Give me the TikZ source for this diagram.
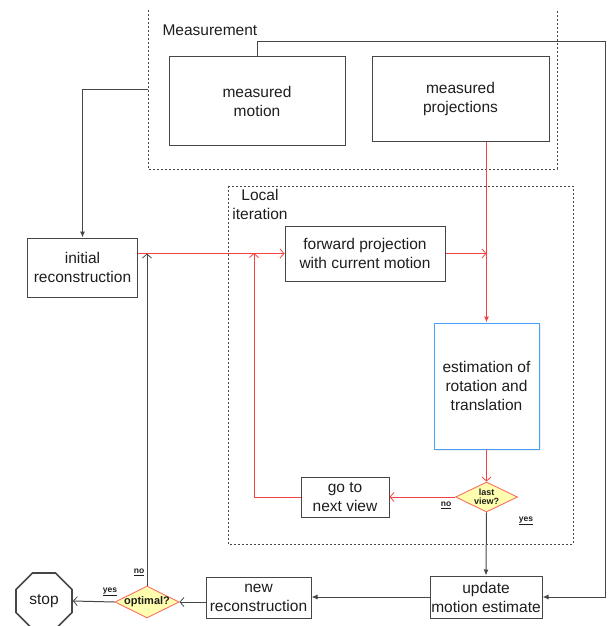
\documentclass[tikz,border=0pt]{standalone}
\usepackage{fontspec}
\setmainfont{Liberation Sans}
\usetikzlibrary{arrows.meta,shapes.geometric,shadows}
\definecolor{rd}{RGB}{245,65,65}
\definecolor{dred}{RGB}{250,110,100}
\definecolor{dyel}{RGB}{255,255,175}
\definecolor{bl}{RGB}{70,160,250}
\definecolor{ln}{RGB}{70,70,70}
\definecolor{txt}{RGB}{30,30,30}
\newcommand{\mainf}{\fontsize{15.5}{19}\selectfont}
\begin{document}
\begin{tikzpicture}[x=1pt,y=-1pt,
  box/.style={draw=ln, line width=1pt, fill=white, align=center, inner sep=0pt, font=\mainf, text=txt},
  dia/.style={diamond, draw=dred, fill=dyel, line width=0.9pt, inner sep=0pt},
  dlab/.style={font=\bfseries\fontsize{9}{9.5}\selectfont, align=center, text=txt},
  small/.style={font=\bfseries\fontsize{8.5}{9}\selectfont, text=txt},
  grp/.style={draw=ln, line width=0.8pt, dash pattern=on 2pt off 2pt},
  blk/.style={draw=ln, line width=1pt},
  red/.style={draw=rd, line width=1pt},
  fill tip/.style={-{Latex[length=6pt,width=5pt]}},
  open tip/.style={-{Straight Barb[length=4pt,width=9pt,line width=0.8pt]}}
]
\useasboundingbox (0,0) rectangle (610,626);

% group frames
\draw[grp] (148,10) |- (557,169) -- (557,10);
\draw[grp] (228,186) rectangle (573,544);
\node[font=\mainf, text=txt, anchor=west] (mlab) at (159,30) {Measurement};
\node[font=\mainf, text=txt, align=center] (llab) at (260,204) {Local\\iteration};

% nodes
\node[box, minimum width=176, minimum height=88] (mmotion) at (257,101) {measured\\motion};
\node[box, minimum width=177, minimum height=84] (mproj) at (460.5,99) {measured\\projections};
\node[box, minimum width=110, minimum height=59] (init) at (82.5,267.5) {initial\\reconstruction};
\node[box, minimum width=160, minimum height=55] (fwd) at (365,253.5) {forward projection\\with current motion};
\node[box, draw=bl, minimum width=105, minimum height=126,
      drop shadow={shadow xshift=2pt, shadow yshift=-2pt, fill=black!12}] (est) at (486.5,386) {estimation of\\rotation and\\translation};
\node[dia, minimum width=62, minimum height=30, label={[dlab]center:last\\view?}] (last) at (486.5,497) {};
\node[box, minimum width=88, minimum height=40] (next) at (345,497) {go to\\next view};
\node[box, minimum width=112, minimum height=42] (update) at (486,597) {update\\motion estimate};
\node[box, minimum width=105, minimum height=41] (newrec) at (258.5,597.5) {new\\reconstruction};
\node[dia, minimum width=64, minimum height=32, label={[dlab, font=\bfseries\fontsize{11}{11}\selectfont]center:optimal?}] (opt) at (147,602) {};
\node[regular polygon, regular polygon sides=8, minimum size=60.6, draw=ln, line width=1.6pt,
      inner sep=0pt, font=\mainf, text=txt] (stop) at (44,601) {stop};

% helper coordinates
\coordinate (tr) at (605,42);
\coordinate (mleft) at (148,89);
\coordinate (rup) at (254,253);
\coordinate (bup) at (opt.north |- fwd.west);

% connectors
\draw[blk, fill tip] (mmotion.north) |- (tr) |- (update.east);
\draw[blk, fill tip] (mleft) -| (init.north);
\draw[red, open tip] (init.east |- fwd.west) -- (fwd.west);
\draw[red, open tip] (fwd.east) -- (fwd.east -| est.north);
\draw[red, fill tip] (est.north |- mproj.south) -- (est.north);
\draw[red, open tip] (est.south) -- (last.north);
\draw[red, open tip] (last.west) -- (next.east);
\draw[red, open tip] (next.west) -| (rup);
\draw[blk, fill tip] (last.south) -- (update.north);
\draw[blk, fill tip] (update.west) -- (update.west -| newrec.east);
\draw[blk, open tip] (opt.east -| newrec.west) -- (opt.east);
\draw[blk, open tip] (opt.west) -- (stop.east);
\draw[blk, open tip] (opt.north) -- (bup);

% branch labels
\node[small] (lno) at (446,505) {\underline{no}};
\node[small] (lyes) at (526,521) {\underline{yes}};
\node[small] (ono) at (139,572) {\underline{no}};
\node[small] (oyes) at (110,592) {\underline{yes}};
\end{tikzpicture}
\end{document}
